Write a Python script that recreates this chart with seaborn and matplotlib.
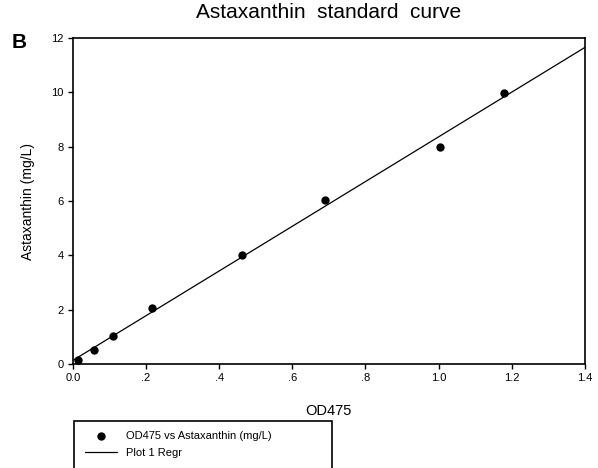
import matplotlib
matplotlib.use('Agg')

import matplotlib.pyplot as plt
from matplotlib.patches import Rectangle
import seaborn as sns
import numpy as np
import pandas as pd

# values
od475 = [0.014, 0.058, 0.110, 0.215, 0.463, 0.689, 1.004, 1.178]
astaxanthin = [0.15, 0.51, 1.03, 2.05, 4.03, 6.05, 7.99, 9.97]

x_ticks = [0.0, 0.2, 0.4, 0.6, 0.8, 1.0, 1.2, 1.4]
x_tick_labels = ["0.0", ".2", ".4", ".6", ".8", "1.0", "1.2", "1.4"]
y_ticks = [0, 2, 4, 6, 8, 10, 12]
legend_labels = ["OD475 vs Astaxanthin (mg/L)", "Plot 1 Regr"]

df = pd.DataFrame({"OD475": od475, "Astaxanthin": astaxanthin})

sns.set_style("ticks")
plt.rcParams['font.family'] = ['Liberation Sans', 'DejaVu Sans']
plt.rcParams['text.color'] = 'black'
plt.rcParams['axes.labelcolor'] = 'black'

fig = plt.figure(figsize=(5.98, 4.68), dpi=100)
ax = fig.add_axes([0.122, 0.222, 0.856, 0.697])
ax.set_xlim(0, 1.4)
ax.set_ylim(0, 12)

sns.regplot(
    data=df, x="OD475", y="Astaxanthin",
    ci=None, truncate=False, ax=ax,
    scatter_kws={"s": 36, "color": "black", "alpha": 1, "linewidths": 0, "zorder": 3},
    line_kws={"color": "black", "lw": 0.9},
)

ax.set_xticks(x_ticks)
ax.set_xticklabels(x_tick_labels)
ax.set_yticks(y_ticks)
ax.tick_params(direction='out', length=3.5, width=1, labelsize=8, colors='black', pad=3)
for s in ax.spines.values():
    s.set_visible(True)
    s.set_linewidth(1.2)
    s.set_color('black')

ax.set_xlabel("OD475", fontsize=10.5, labelpad=15, color='black')
ax.set_ylabel("Astaxanthin (mg/L)", fontsize=10, labelpad=12, color='black')
ax.set_title("Astaxanthin  standard  curve", fontsize=15, pad=14, color='black')

fig.text(0.02, 0.91, "B", fontsize=15, fontweight='bold', ha='left', va='center')

# legend box below the plot, running off the bottom edge like the original
fig.patches.append(Rectangle((74 / 598, -0.05), (332 - 74) / 598, (468 - 421) / 468 + 0.05,
                             transform=fig.transFigure, fill=False, edgecolor='black', lw=1.2))
handles = [ax.collections[0], ax.lines[0]]
fig.legend(handles, legend_labels, loc='upper left', bbox_to_anchor=(85 / 598, 1 - 431 / 468),
           frameon=False, fontsize=8, handlelength=2.9, handletextpad=0.8,
           labelspacing=0.65, borderpad=0, borderaxespad=0, labelcolor='black')

fig.savefig("out.png", dpi=100)
